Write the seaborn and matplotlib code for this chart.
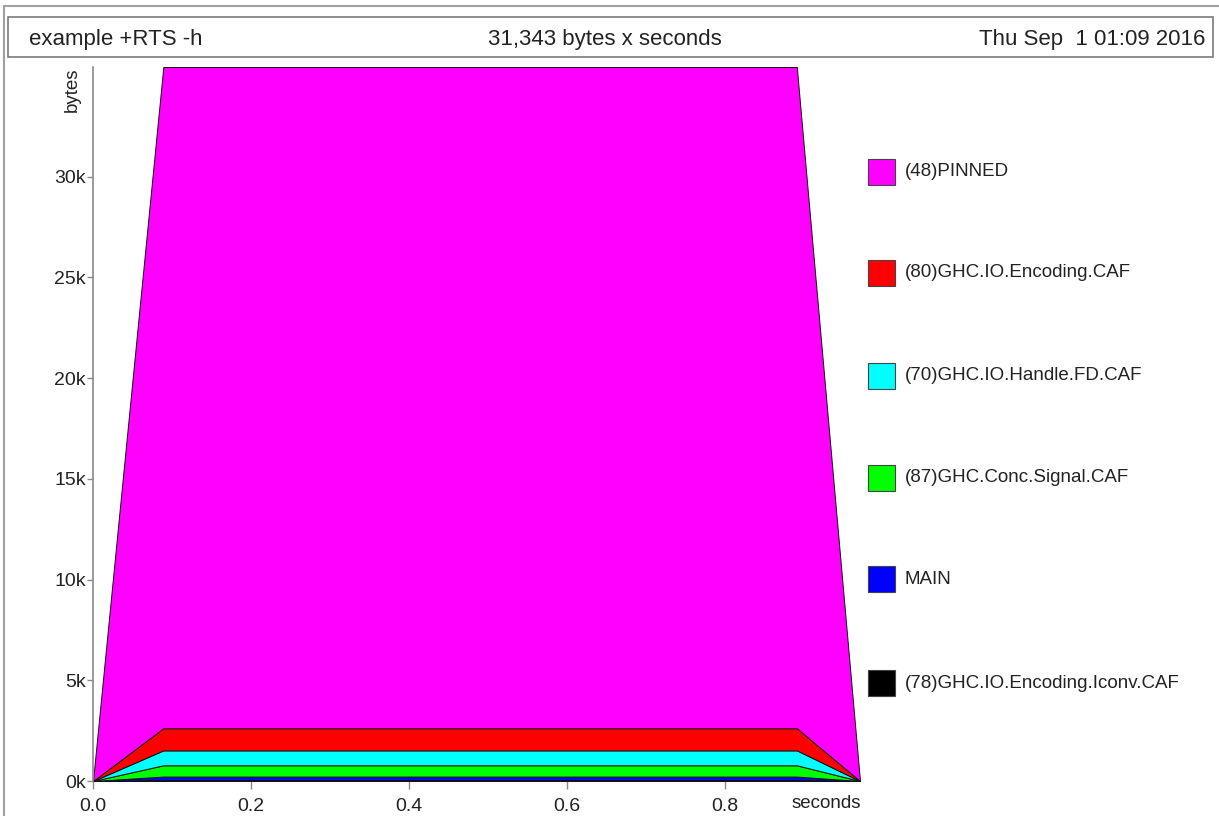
import matplotlib
matplotlib.use("Agg")
import matplotlib.pyplot as plt
import seaborn as sns
import numpy as np
from matplotlib.patches import Rectangle
from matplotlib.lines import Line2D
from matplotlib.ticker import FuncFormatter

# ---- data ----
times = [0.0, 0.089, 0.891, 0.971]
series_names = ["(78)GHC.IO.Encoding.Iconv.CAF", "MAIN", "(87)GHC.Conc.Signal.CAF",
                "(70)GHC.IO.Handle.FD.CAF", "(80)GHC.IO.Encoding.CAF", "(48)PINNED"]
series_colors = ["#000000", "#0000ff", "#00ff00", "#00ffff", "#ff0000", "#ff00ff"]
iconv_vals = [0, 50, 50, 0]
main_vals = [0, 170, 170, 0]
signal_vals = [0, 560, 560, 0]
handle_vals = [0, 740, 740, 0]
encoding_vals = [0, 1100, 1100, 0]
pinned_vals = [0, 32830, 32830, 0]
y_ticks = [0, 5000, 10000, 15000, 20000, 25000, 30000]
x_ticks = [0.0, 0.2, 0.4, 0.6, 0.8]
title_left = "example +RTS -h"
title_mid = "31,343 bytes x seconds"
title_right = "Thu Sep  1 01:09 2016"

sns.set_theme(style="ticks")
plt.rcParams["font.family"] = ["Liberation Sans", "DejaVu Sans"]

W, H = 1219, 816
fig = plt.figure(figsize=(W / 100, H / 100), dpi=100)
fig.patch.set_facecolor("white")

def fx(px):
    return px / W

def fy(py):
    return 1 - py / H

ax = fig.add_axes([fx(93), fy(781), fx(860) - fx(93), fy(67) - fy(781)])
ax.set_facecolor("white")

all_vals = [iconv_vals, main_vals, signal_vals, handle_vals, encoding_vals, pinned_vals]
ax.stackplot(times, *all_vals, colors=series_colors, edgecolor="#111111", linewidth=0.7)

total = np.sum(np.array(all_vals), axis=0)
ax.set_xlim(times[0], times[-1])
ax.set_ylim(0, total.max())

sns.despine(ax=ax, top=True, right=True)
ax.spines["left"].set_color("#8a8a8a")
ax.spines["left"].set_linewidth(1.2)
ax.spines["bottom"].set_visible(False)

ax.set_yticks(y_ticks)
ax.yaxis.set_major_formatter(FuncFormatter(lambda v, p: f"{int(v/1000)}k"))
ax.set_xticks(x_ticks)
ax.set_xticklabels([f"{t:.1f}" for t in x_ticks])
ax.tick_params(axis="both", colors="#8a8a8a", labelcolor="#222222", labelsize=14,
               length=4, width=1)
ax.tick_params(axis="x", length=6, pad=6)
ax.tick_params(axis="y", pad=1)

fig.text(fx(72), fy(67), "bytes", rotation=90, ha="center", va="top",
         fontsize=13.5, color="#222222")
fig.text(fx(861), fy(803), "seconds", ha="right", va="center",
         fontsize=13.5, color="#222222")

# title box
fig.patches.append(Rectangle((fx(8), fy(57)), fx(1213) - fx(8), fy(17) - fy(57),
                             transform=fig.transFigure, facecolor="white",
                             edgecolor="#7a7a7a", linewidth=1.2))
fig.text(fx(29), fy(39), title_left, ha="left", va="center", fontsize=16, color="#222222")
fig.text(fx(605), fy(39), title_mid, ha="center", va="center", fontsize=16, color="#222222")
fig.text(fx(1205), fy(39), title_right, ha="right", va="center", fontsize=16, color="#222222")

# outer frame
fig.lines.append(Line2D([fx(4), 1.0], [fy(6), fy(6)], transform=fig.transFigure,
                        color="#a0a0a0", linewidth=1.5))
fig.lines.append(Line2D([fx(4), fx(4)], [fy(6), 0.0], transform=fig.transFigure,
                        color="#a0a0a0", linewidth=1.5))

# legend (top entry = top layer)
legend_rows = [172, 273, 376, 478, 579, 683]
for name, col, yc in zip(series_names[::-1], series_colors[::-1], legend_rows):
    fig.patches.append(Rectangle((fx(868), fy(yc + 13)), fx(895) - fx(868), fy(yc - 13) - fy(yc + 13),
                                 transform=fig.transFigure, facecolor=col,
                                 edgecolor="#444444", linewidth=0.8))
    fig.text(fx(905), fy(yc), name, ha="left", va="center", fontsize=13.5, color="#222222")

fig.savefig("out.png", dpi=100, facecolor="white")
